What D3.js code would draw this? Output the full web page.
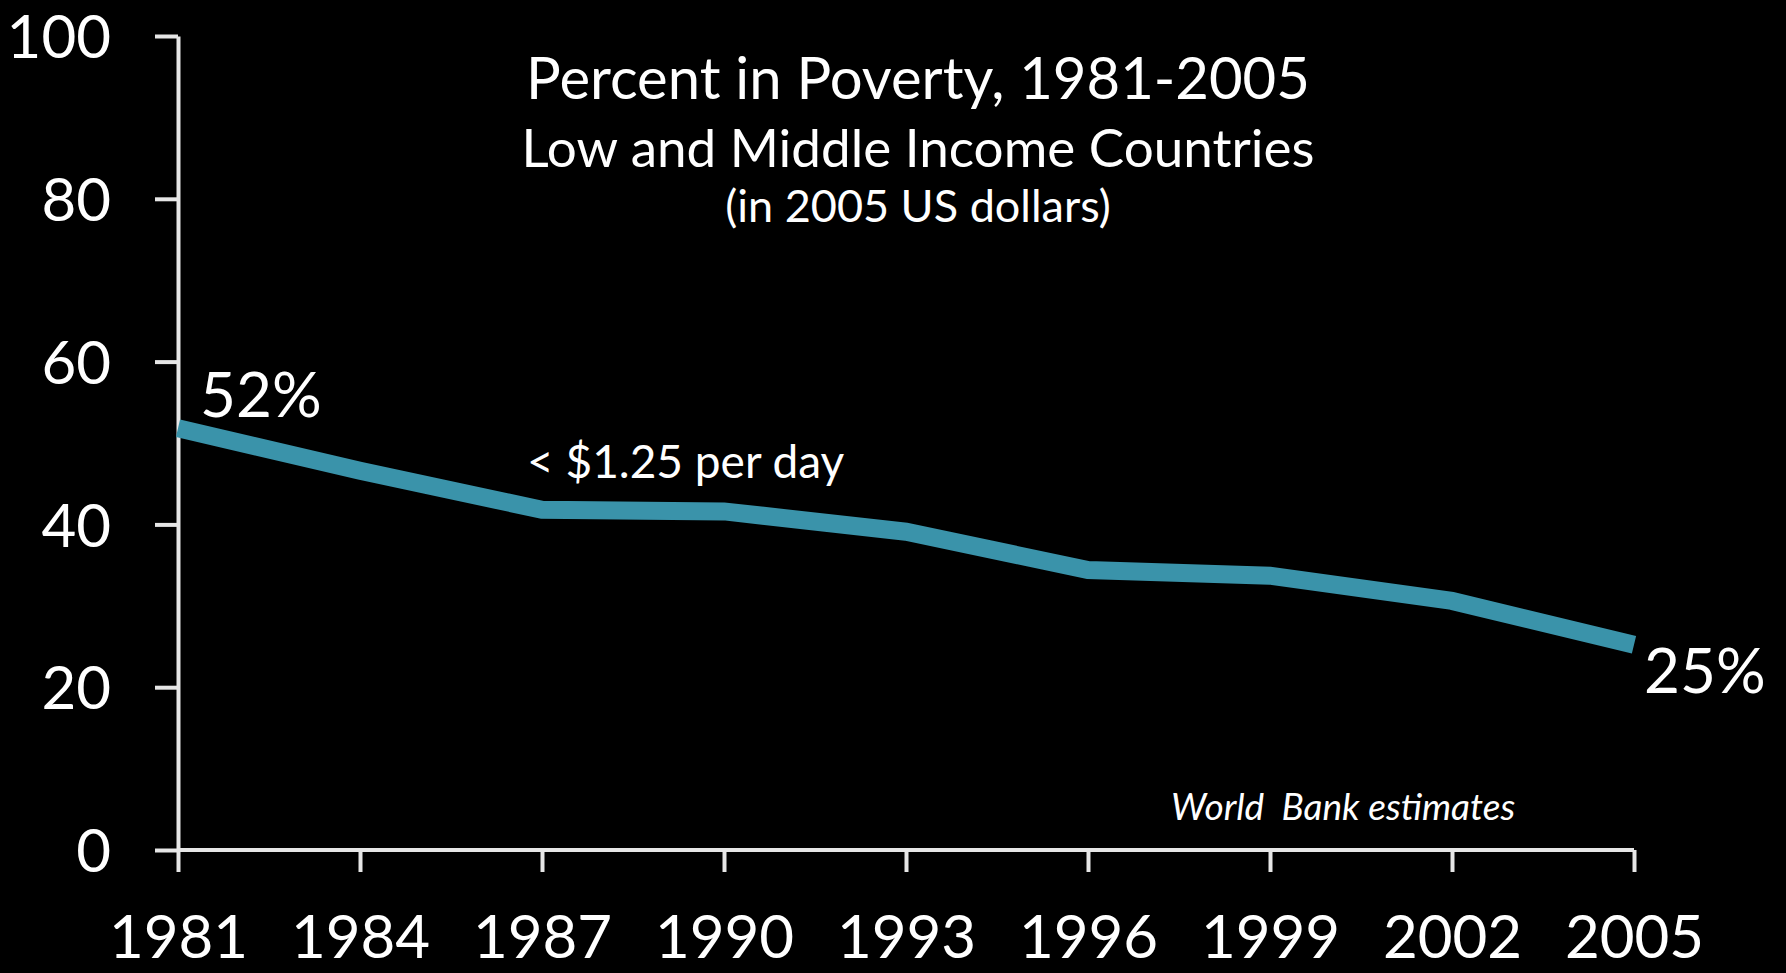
<!DOCTYPE html>
<html>
    <head>
        <title>Percent in Poverty</title>
        <script src="https://d3js.org/d3.v7.min.js"></script>
        <style>
        body {
            margin: 0;
            background: black;
        }
        text {
            font-family: Lato, "Open Sans", sans-serif;
            fill: white;
        }
        .axis path, .axis line {
            stroke: #e6e6e6;
            stroke-width: 4px;
        }
        .axis text {
            font-size: 60px;
            fill: white;
        }
        </style>
    </head>
    <body>
        <svg id="chart" width="1786" height="973"></svg>
        <script>
            // data
            const years = [1981, 1984, 1987, 1990, 1993, 1996, 1999, 2002, 2005];
            const poverty = [51.8, 46.6, 41.8, 41.6, 39.1, 34.4, 33.7, 30.6, 25.2];
            const yTicks = [0, 20, 40, 60, 80, 100];

            const titleLines = ["Percent in Poverty, 1981-2005",
                                "Low and Middle Income Countries",
                                "(in 2005 US dollars)"];

            const svg = d3.select("svg#chart");
            const width = +svg.attr("width");
            const height = +svg.attr("height");
            const margin = {left: 178, top: 36, right: 152, bottom: 123};

            svg.append("rect")
               .attr("width", width)
               .attr("height", height)
               .attr("fill", "black");

            const x = d3.scalePoint()
                        .domain(years)
                        .range([margin.left, width - margin.right]);
            const y = d3.scaleLinear()
                        .domain([0, 100])
                        .range([height - margin.bottom, margin.top]);

            // y axis
            const yAxis = svg.append("g")
                             .attr("class", "axis")
                             .attr("transform", `translate(${margin.left},0)`)
                             .call(d3.axisLeft(y).tickValues(yTicks).tickSize(23).tickSizeOuter(0).tickPadding(44));
            yAxis.selectAll("text").attr("dy", "0.36em");

            // x axis, labels placed by baseline
            const xAxis = svg.append("g")
                             .attr("class", "axis")
                             .attr("transform", `translate(0,${y(0)})`)
                             .call(d3.axisBottom(x).tickSize(22).tickSizeOuter(0).tickPadding(86));
            xAxis.select(".domain").attr("d", `M${margin.left},0H${x(2005)}`);
            xAxis.selectAll("text").attr("dy", "0");

            // poverty line
            const line = d3.line()
                           .x((d, i) => x(years[i]))
                           .y(d => y(d));
            svg.append("path")
               .datum(poverty)
               .attr("d", line)
               .attr("fill", "none")
               .attr("stroke", "#3a93aa")
               .attr("stroke-width", 18)
               .attr("stroke-linejoin", "miter");

            // end labels
            svg.append("text")
               .attr("x", x(years[0]) + 22)
               .attr("y", y(poverty[0]) - 11)
               .style("font-size", "62px")
               .text(Math.round(poverty[0]) + "%");
            svg.append("text")
               .attr("x", x(years[years.length - 1]) + 10)
               .attr("y", y(poverty[poverty.length - 1]) + 48)
               .style("font-size", "62px")
               .text(Math.round(poverty[poverty.length - 1]) + "%");

            // line annotation
            svg.append("text")
               .attr("x", 527)
               .attr("y", 478)
               .style("font-size", "46px")
               .text("< $1.25 per day");

            // source
            svg.append("text")
               .attr("x", 1171)
               .attr("y", 820)
               .style("font-size", "37px")
               .style("font-style", "italic")
               .style("white-space", "pre")
               .text("World  Bank estimates");

            // titles
            const titleX = 918;
            svg.append("text")
               .attr("x", titleX).attr("y", 99)
               .attr("text-anchor", "middle")
               .style("font-size", "58px")
               .text(titleLines[0]);
            svg.append("text")
               .attr("x", titleX).attr("y", 167)
               .attr("text-anchor", "middle")
               .style("font-size", "53px")
               .text(titleLines[1]);
            svg.append("text")
               .attr("x", titleX).attr("y", 222)
               .attr("text-anchor", "middle")
               .style("font-size", "45px")
               .text(titleLines[2]);
        </script>
    </body>
</html>
